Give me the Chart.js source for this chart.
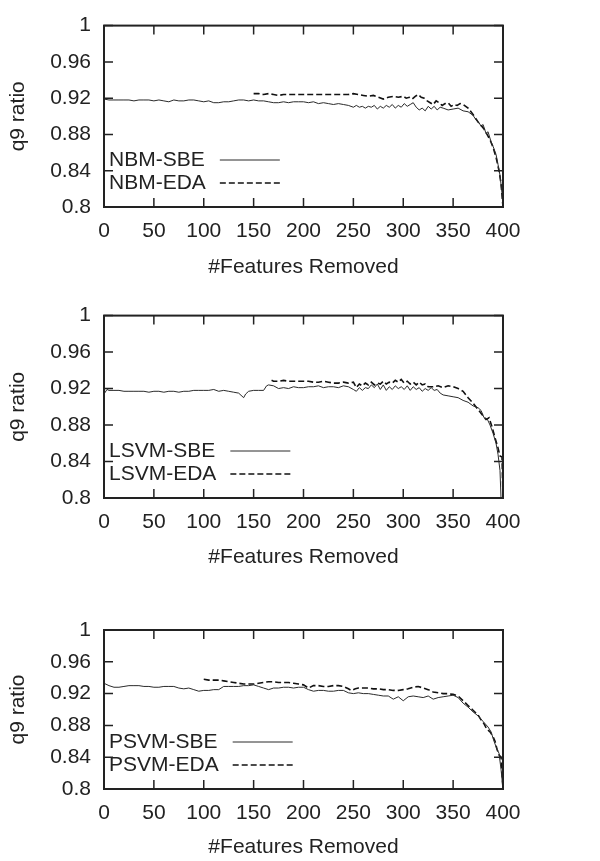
<!DOCTYPE html>
<html>
<head>
<meta charset="utf-8">
<script src="https://cdn.jsdelivr.net/npm/chart.js@4.4.0/dist/chart.umd.min.js"></script>
<style>
  body { margin: 0; background: #fff; }
  canvas { position: absolute; left: 0; }
</style>
</head>
<body>
<canvas id="c1" width="600" height="290" style="top:0"></canvas>
<canvas id="c2" width="600" height="290" style="top:290px"></canvas>
<canvas id="c3" width="600" height="281" style="top:580px"></canvas>
<script>
// ---- data ----
const xTicks = [0, 50, 100, 150, 200, 250, 300, 350, 400];
const yTicks = [0.8, 0.84, 0.88, 0.92, 0.96, 1];

// NBM panel
const nbmSbeX = [0,5,10,15,20,25,30,35,40,45,50,55,60,65,70,75,80,85,90,95,100,105,110,115,120,125,130,135,140,145,150,155,160,165,170,175,180,185,190,195,200,205,210,215,220,225,230,235,240,245,
  250,253,256,259,262,265,268,271,274,277,280,283,286,289,292,295,298,301,304,307,310,313,316,319,322,325,328,331,334,337,340,345,350,355,360,
  365,370,373,376,378,380,383,385,388,390,393,395,397,399,400];
const nbmSbeY = [0.919,0.918,0.918,0.918,0.918,0.918,0.917,0.918,0.918,0.918,0.917,0.918,0.917,0.916,0.918,0.917,0.917,0.918,0.918,0.917,0.916,0.917,0.915,0.915,0.916,0.916,0.917,0.918,0.918,0.917,0.918,0.917,0.917,0.916,0.915,0.915,0.916,0.915,0.916,0.916,0.916,0.915,0.916,0.914,0.915,0.914,0.913,0.914,0.913,0.912,
  0.910,0.912,0.910,0.911,0.909,0.911,0.910,0.912,0.908,0.911,0.909,0.912,0.910,0.913,0.909,0.912,0.910,0.914,0.911,0.913,0.915,0.910,0.907,0.909,0.906,0.911,0.908,0.911,0.907,0.910,0.909,0.907,0.908,0.909,0.906,
  0.905,0.901,0.896,0.893,0.889,0.891,0.881,0.883,0.872,0.867,0.858,0.847,0.835,0.815,0.800];
const nbmEdaX = [150,155,160,165,170,175,180,185,190,195,200,205,210,215,220,225,230,235,240,245,250,255,260,265,270,275,280,285,290,295,
  300,303,306,309,312,315,318,321,324,327,330,333,336,339,342,345,348,351,354,357,360,365,
  370,373,376,378,381,384,387,390,393,396,398,400];
const nbmEdaY = [0.925,0.925,0.924,0.925,0.924,0.923,0.924,0.924,0.924,0.924,0.924,0.924,0.924,0.924,0.924,0.924,0.924,0.924,0.924,0.924,0.925,0.924,0.923,0.922,0.923,0.921,0.919,0.921,0.922,0.921,
  0.922,0.920,0.921,0.919,0.922,0.924,0.921,0.920,0.917,0.915,0.913,0.917,0.915,0.912,0.914,0.915,0.911,0.913,0.912,0.914,0.913,0.909,
  0.902,0.897,0.892,0.890,0.886,0.880,0.874,0.866,0.855,0.840,0.826,0.800];

// LSVM panel
const lsvmSbeX = [0,3,5,10,15,20,25,30,35,40,45,50,55,60,65,70,75,80,85,90,95,100,105,110,115,120,125,130,135,140,142,145,150,155,160,163,165,170,175,180,185,190,195,200,205,210,215,220,225,230,235,240,245,
  250,253,256,259,262,265,268,271,274,277,280,283,286,289,292,295,298,301,304,307,310,313,316,319,322,325,328,331,334,337,340,
  345,350,355,360,365,370,375,378,381,384,387,390,393,395,397,398];
const lsvmSbeY = [0.914,0.919,0.918,0.918,0.918,0.917,0.917,0.917,0.917,0.917,0.916,0.917,0.917,0.916,0.917,0.917,0.916,0.917,0.917,0.918,0.918,0.918,0.918,0.919,0.917,0.918,0.917,0.916,0.915,0.910,0.914,0.917,0.918,0.918,0.918,0.923,0.924,0.923,0.920,0.921,0.920,0.922,0.921,0.921,0.922,0.922,0.923,0.921,0.922,0.922,0.921,0.923,0.922,
  0.919,0.917,0.921,0.918,0.921,0.920,0.924,0.921,0.925,0.919,0.924,0.918,0.922,0.919,0.923,0.920,0.922,0.919,0.923,0.918,0.922,0.919,0.921,0.917,0.920,0.918,0.921,0.918,0.919,0.915,0.913,
  0.912,0.911,0.910,0.907,0.905,0.901,0.899,0.896,0.888,0.887,0.880,0.871,0.860,0.848,0.830,0.800];
const lsvmEdaX = [168,170,175,180,185,190,195,200,205,210,215,220,225,230,235,240,245,
  250,253,256,259,262,265,268,271,274,277,280,283,286,289,292,295,298,301,304,307,310,313,316,319,322,325,330,335,340,345,350,
  355,360,365,370,375,380,383,386,389,392,395,397,399,400];
const lsvmEdaY = [0.929,0.928,0.928,0.929,0.928,0.928,0.928,0.928,0.928,0.927,0.927,0.928,0.927,0.926,0.926,0.927,0.926,
  0.927,0.921,0.925,0.923,0.926,0.924,0.927,0.924,0.926,0.925,0.928,0.925,0.927,0.926,0.929,0.927,0.930,0.926,0.928,0.925,0.927,0.924,0.927,0.924,0.925,0.922,0.922,0.923,0.921,0.923,0.922,
  0.920,0.917,0.910,0.904,0.897,0.890,0.886,0.888,0.878,0.866,0.855,0.846,0.845,0.800];

// PSVM panel
const psvmSbeX = [0,5,10,15,20,25,30,35,40,45,50,55,60,65,70,75,80,85,90,95,100,105,110,115,120,125,130,135,140,145,150,155,160,165,170,175,180,185,190,195,200,205,210,215,220,225,230,235,240,245,250,255,260,265,270,275,280,285,290,295,300,305,310,315,320,325,330,335,340,345,350,355,360,365,370,375,380,385,388,391,394,396,398,400];
const psvmSbeY = [0.933,0.930,0.928,0.928,0.929,0.930,0.930,0.930,0.929,0.929,0.928,0.928,0.929,0.929,0.929,0.927,0.926,0.927,0.925,0.923,0.924,0.924,0.925,0.925,0.929,0.929,0.929,0.929,0.930,0.930,0.931,0.929,0.927,0.925,0.927,0.927,0.928,0.928,0.927,0.928,0.928,0.925,0.923,0.924,0.924,0.923,0.923,0.924,0.924,0.921,0.920,0.921,0.920,0.920,0.919,0.918,0.917,0.917,0.913,0.916,0.911,0.916,0.917,0.916,0.915,0.917,0.913,0.915,0.916,0.917,0.918,0.915,0.908,0.903,0.897,0.892,0.885,0.878,0.872,0.860,0.850,0.845,0.825,0.800];
const psvmEdaX = [100,105,110,115,120,125,130,135,140,145,150,155,160,165,170,175,180,185,190,195,200,205,210,215,220,225,230,235,240,245,248,252,255,260,265,270,275,280,285,290,295,300,305,310,315,320,325,330,335,340,345,350,355,360,365,370,375,378,381,384,387,390,392,394,396,398,400];
const psvmEdaY = [0.938,0.937,0.937,0.937,0.936,0.935,0.934,0.933,0.932,0.932,0.932,0.933,0.934,0.935,0.935,0.934,0.934,0.934,0.933,0.932,0.931,0.927,0.930,0.930,0.929,0.929,0.930,0.930,0.929,0.926,0.924,0.926,0.927,0.927,0.927,0.926,0.926,0.925,0.925,0.924,0.924,0.925,0.926,0.928,0.929,0.927,0.925,0.922,0.921,0.920,0.920,0.919,0.917,0.911,0.905,0.899,0.893,0.887,0.882,0.875,0.872,0.866,0.860,0.850,0.843,0.840,0.800];

// ---- drawing ----
const ink = "#222";
const fontFamily = "'Liberation Sans', Arial, Helvetica, sans-serif";
const labelFont = { family: fontFamily, size: 21 };

function pairs(xs, ys) {
  return xs.map((x, i) => ({ x: x, y: ys[i] }));
}

// gnuplot style frame with inward ticks on all four sides
const framePlugin = {
  id: "frame",
  afterDraw(chart) {
    const { ctx, chartArea: a, scales } = chart;
    const len = 9;
    ctx.save();
    ctx.strokeStyle = ink;
    ctx.lineWidth = 1.5;
    ctx.beginPath();
    xTicks.forEach((v) => {
      const px = scales.x.getPixelForValue(v);
      ctx.moveTo(px, a.bottom);
      ctx.lineTo(px, a.bottom - len);
      ctx.moveTo(px, a.top);
      ctx.lineTo(px, a.top + len);
    });
    yTicks.forEach((v) => {
      const py = scales.y.getPixelForValue(v);
      ctx.moveTo(a.left, py);
      ctx.lineTo(a.left + len, py);
      ctx.moveTo(a.right, py);
      ctx.lineTo(a.right - len, py);
    });
    ctx.stroke();
    ctx.lineWidth = 2;
    ctx.strokeRect(a.left, a.top, a.right - a.left, a.bottom - a.top);
    ctx.restore();
  },
};

// key drawn inside the plot, lower left
const keyPlugin = {
  id: "key",
  afterDraw(chart) {
    const { ctx, chartArea: a } = chart;
    const sets = chart.data.datasets;
    ctx.save();
    ctx.font = labelFont.size + "px " + fontFamily;
    ctx.fillStyle = ink;
    ctx.textBaseline = "middle";
    ctx.textAlign = "left";
    const textX = a.left + 5;
    const w = Math.max(...sets.map((d) => ctx.measureText(d.label).width));
    const lineX = textX + w + 14;
    sets.forEach((d, i) => {
      const y = a.bottom - 47 + i * 23;
      ctx.fillText(d.label, textX, y);
      ctx.strokeStyle = d.borderColor;
      ctx.lineWidth = d.borderWidth;
      ctx.setLineDash(d.borderDash || []);
      ctx.beginPath();
      ctx.moveTo(lineX, y);
      ctx.lineTo(lineX + 60, y);
      ctx.stroke();
    });
    ctx.restore();
  },
};

function makePanel(id, names, sbe, eda, plotTop, axisHeight, titlePad) {
  return new Chart(document.getElementById(id), {
    type: "line",
    data: {
      datasets: [
        {
          label: names[0],
          data: sbe,
          borderColor: "#2a2a2a",
          borderWidth: 1,
          pointRadius: 0,
          tension: 0,
        },
        {
          label: names[1],
          data: eda,
          borderColor: "#111",
          borderWidth: 1.6,
          borderDash: [6, 3],
          pointRadius: 0,
          tension: 0,
        },
      ],
    },
    options: {
      responsive: false,
      animation: false,
      events: [],
      layout: { padding: { top: plotTop, right: 97, left: 0, bottom: 0 } },
      plugins: { legend: { display: false }, tooltip: { enabled: false } },
      scales: {
        x: {
          type: "linear",
          min: 0,
          max: 400,
          afterBuildTicks: (s) => { s.ticks = xTicks.map((v) => ({ value: v })); },
          afterFit: (s) => { s.height = axisHeight; },
          ticks: { color: ink, font: labelFont, padding: 12, autoSkip: false, maxRotation: 0 },
          grid: { display: false, drawTicks: false },
          border: { display: false },
          title: { display: true, text: "#Features Removed", color: ink, font: labelFont, padding: { top: 0, bottom: titlePad } },
        },
        y: {
          min: 0.8,
          max: 1,
          afterBuildTicks: (s) => { s.ticks = yTicks.map((v) => ({ value: v })); },
          afterFit: (s) => { s.width = 104; },
          ticks: { color: ink, font: labelFont, padding: 13, callback: (v) => String(Number(v.toFixed(2))) },
          grid: { display: false, drawTicks: false },
          border: { display: false },
          title: { display: true, text: "q9 ratio", color: ink, font: labelFont, padding: { top: 6, bottom: 0 } },
        },
      },
    },
    plugins: [framePlugin, keyPlugin],
  });
}

makePanel("c1", ["NBM-SBE", "NBM-EDA"], pairs(nbmSbeX, nbmSbeY), pairs(nbmEdaX, nbmEdaY), 16, 83, 10);
makePanel("c2", ["LSVM-SBE", "LSVM-EDA"], pairs(lsvmSbeX, lsvmSbeY), pairs(lsvmEdaX, lsvmEdaY), 16, 82, 10);
makePanel("c3", ["PSVM-SBE", "PSVM-EDA"], pairs(psvmSbeX, psvmSbeY), pairs(psvmEdaX, psvmEdaY), 50, 72, 1);
</script>
</body>
</html>
